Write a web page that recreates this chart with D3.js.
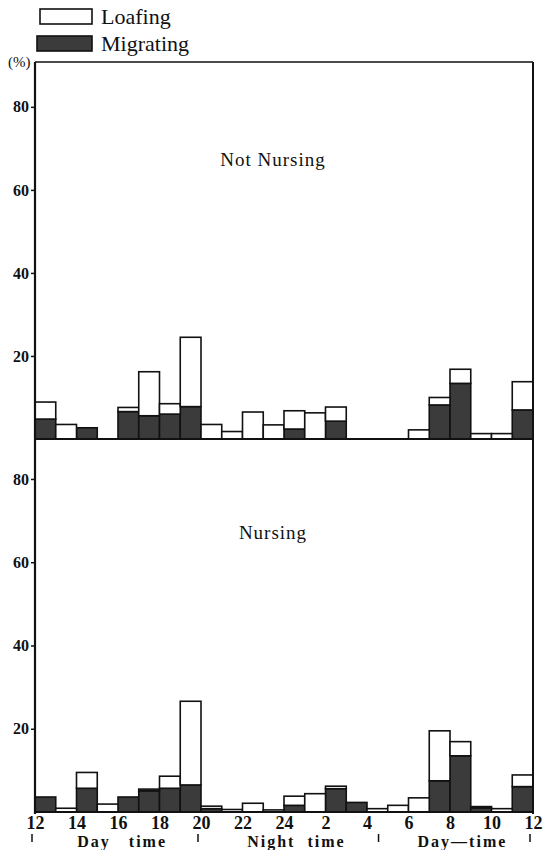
<!DOCTYPE html>
<html>
<head>
<meta charset="utf-8">
<title>Loafing and migrating by hour</title>
<script src="https://d3js.org/d3.v7.min.js"></script>
<style>
  body { margin: 0; background: #fff; }
  svg text { font-family: "Liberation Serif", "DejaVu Serif", serif; fill: #111; }
</style>
</head>
<body>
<script>
// hours from 12 (noon) through the night to the next noon (36)
const hours = d3.range(12, 36);
const tickHours = [12, 14, 16, 18, 20, 22, 24, 26, 28, 30, 32, 34, 36];
const yTicks = [20, 40, 60, 80];

// Not nursing: total height and migrating part (%)
const notNursingTotal = [8.9, 3.5, 2.7, 0, 7.6, 16.2, 8.5, 24.5, 3.5, 1.8, 6.5, 3.4,
                         6.8, 6.3, 7.7, 0, 0, 0, 2.2, 10.0, 16.8, 1.3, 1.3, 13.8];
const notNursingMigr  = [4.8, 0, 2.7, 0, 6.6, 5.6, 6.0, 7.8, 0, 0, 0, 0,
                         2.4, 0, 4.3, 0, 0, 0, 0, 8.2, 13.4, 0, 0, 7.0];
// Nursing
const nursingTotal = [3.6, 0.9, 9.5, 1.9, 3.6, 5.5, 8.6, 26.6, 1.4, 0.6, 2.1, 0.5,
                      3.8, 4.4, 6.2, 2.3, 0.8, 1.6, 3.4, 19.5, 16.9, 1.3, 0.8, 8.9];
const nursingMigr  = [3.6, 0, 5.7, 0, 3.6, 5.1, 5.7, 6.5, 0.8, 0, 0, 0,
                      1.6, 0, 5.6, 2.3, 0, 0, 0, 7.5, 13.5, 1.0, 0, 6.1];

const periods = [
  {label: "Day   time", mid: 16.2},
  {label: "Night  time", mid: 24.6},
  {label: "Day\u2014time", mid: 32.6}
];
const periodMarks = [12, 20, 28.7, 36];

const W = 546, H = 850;
const left = 35, right = 533;
const topY = 62, midY = 439, botY = 812;

const svg = d3.select("body").append("svg")
  .attr("width", W).attr("height", H);

const x = d3.scaleLinear().domain([12, 36]).range([left, right]);
const yTop = d3.scaleLinear().domain([0, 90.8]).range([midY, topY]);
const yBot = d3.scaleLinear().domain([0, 89.6]).range([botY, midY]);

const dark = "#3b3b3b";

function panel(y, totals, migr, title, titleY) {
  const rows = hours.map((h, i) => ({hour: h, migrating: migr[i], loafing: Math.max(0, totals[i] - migr[i])}));
  const stack = d3.stack().keys(["migrating", "loafing"])(rows);
  const g = svg.append("g");
  stack.forEach(layer => {
    g.selectAll(null)
      .data(layer.filter(d => d[1] - d[0] > 0))
      .enter().append("rect")
      .attr("x", d => x(d.data.hour))
      .attr("width", d => x(d.data.hour + 1) - x(d.data.hour))
      .attr("y", d => y(d[1]))
      .attr("height", d => y(d[0]) - y(d[1]))
      .attr("fill", layer.key === "migrating" ? dark : "#fff")
      .attr("stroke", "#111")
      .attr("stroke-width", 1.6);
  });

  const ax = svg.append("g")
    .attr("transform", `translate(${left},0)`)
    .call(d3.axisLeft(y).tickValues(yTicks).tickSize(4).tickPadding(2));
  ax.select(".domain").remove();
  ax.selectAll("line").attr("stroke", "#111").attr("stroke-width", 1.5);
  ax.selectAll("text")
    .style("font-family", "'Liberation Serif', serif")
    .style("font-weight", "bold")
    .style("font-size", "16px")
    .attr("fill", "#111");

  svg.append("text")
    .attr("x", 273).attr("y", titleY)
    .attr("text-anchor", "middle")
    .style("font-size", "19px")
    .style("letter-spacing", "1px")
    .text(title);
}

panel(yTop, notNursingTotal, notNursingMigr, "Not Nursing", 166);
panel(yBot, nursingTotal, nursingMigr, "Nursing", 539);

// frame
const frame = svg.append("g").attr("fill", "none").attr("stroke", "#111");
frame.append("line").attr("x1", left).attr("x2", left).attr("y1", topY).attr("y2", botY + 2).attr("stroke-width", 2.2);
frame.append("line").attr("x1", right).attr("x2", right).attr("y1", topY).attr("y2", botY + 2).attr("stroke-width", 2);
frame.append("line").attr("x1", left).attr("x2", right).attr("y1", topY).attr("y2", topY).attr("stroke-width", 1.6);
frame.append("line").attr("x1", left).attr("x2", right).attr("y1", midY).attr("y2", midY).attr("stroke-width", 2);
frame.append("line").attr("x1", left).attr("x2", right).attr("y1", botY).attr("y2", botY).attr("stroke-width", 2);

// (%) unit
svg.append("text").attr("x", 8).attr("y", 67)
  .style("font-size", "15px").text("(%)");

// bottom axis
const bx = svg.append("g")
  .attr("transform", `translate(0,${botY})`)
  .call(d3.axisBottom(x).tickValues(tickHours).tickSize(0).tickPadding(4)
    .tickFormat(h => h > 24 ? h - 24 : h));
bx.select(".domain").remove();
bx.selectAll("text")
  .style("font-family", "'Liberation Serif', serif")
  .style("font-weight", "bold")
  .style("font-size", "18px")
  .attr("fill", "#111");

svg.append("g").selectAll("line")
  .data(periodMarks).enter().append("line")
  .attr("x1", d => x(d) - 3).attr("x2", d => x(d) - 3)
  .attr("y1", 834).attr("y2", 842)
  .attr("stroke", "#111").attr("stroke-width", 1.5);

svg.append("g").selectAll("text")
  .data(periods).enter().append("text")
  .attr("x", d => x(d.mid)).attr("y", 847)
  .attr("text-anchor", "middle")
  .style("font-size", "16px")
  .style("font-weight", "bold")
  .style("letter-spacing", "2px")
  .style("white-space", "pre")
  .attr("xml:space", "preserve")
  .text(d => d.label);

// legend
const legend = [{label: "Loafing", fill: "#fff"}, {label: "Migrating", fill: dark}];
const lg = svg.append("g").selectAll("g").data(legend).enter().append("g")
  .attr("transform", (d, i) => `translate(0,${i * 27})`);
lg.append("rect")
  .attr("x", (d, i) => i ? 37 : 40).attr("y", 9)
  .attr("width", (d, i) => i ? 55 : 52).attr("height", 15)
  .attr("fill", d => d.fill).attr("stroke", "#111").attr("stroke-width", 1.6);
lg.append("text")
  .attr("x", 101).attr("y", 24)
  .style("font-size", "22px")
  .text(d => d.label);
</script>
</body>
</html>
